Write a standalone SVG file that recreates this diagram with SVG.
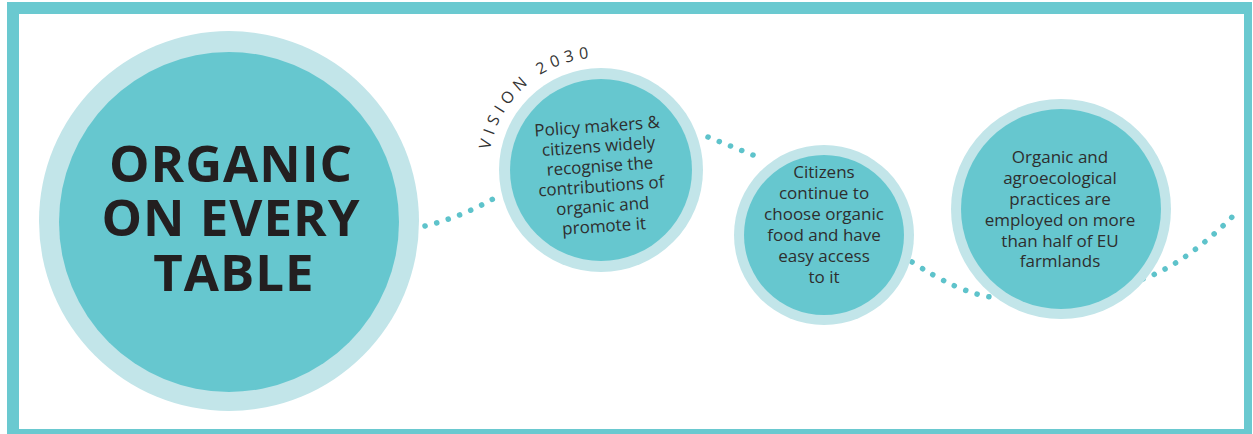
<svg xmlns="http://www.w3.org/2000/svg" width="1253" height="434" viewBox="0 0 1253 434">
<defs>
<style>
.ring{fill:#c2e5e9}
.core{fill:#66c7cf}
.dots{fill:none;stroke:#5ec3cb;stroke-width:5.5;stroke-linecap:round;stroke-dasharray:0.1 12}
.big{font-family:"Open Sans","Liberation Sans",sans-serif;font-weight:700;font-size:51px;fill:#231f20;text-anchor:middle;letter-spacing:1px}
.txt{font-family:"Open Sans","Liberation Sans",sans-serif;font-size:17px;font-weight:500;fill:#2e2e2e;text-anchor:middle}
.vision{font-family:"Open Sans","Liberation Sans",sans-serif;font-size:16px;fill:#333333;letter-spacing:5.2px}
</style>
<path id="visionArc" d="M490,150 A112,112 0 0,1 610,58"/>
</defs>
<rect x="0" y="0" width="1253" height="434" fill="#ffffff"/>
<rect x="7" y="2" width="1245" height="432" fill="#6ac9d0"/>
<rect x="19" y="14" width="1225" height="415" fill="#ffffff"/>
<g id="connectors">
<path class="dots" d="M425,226 Q462.5,217 498,196"/>
<path class="dots" d="M708,137 L753,155"/>
<path class="dots" d="M912,262 Q958.5,292.5 991,297"/>
<path class="dots" d="M1143,279 Q1188,262.5 1237,212"/>
</g>
<g id="node-main">
<circle class="ring" cx="229" cy="221" r="190"/>
<circle class="core" cx="229" cy="222" r="170"/>
<text class="big" x="231" y="182">ORGANIC</text>
<text class="big" x="231" y="236">ON EVERY</text>
<text class="big" x="234" y="291">TABLE</text>
</g>
<g id="node-vision">
<circle class="ring" cx="601" cy="170" r="102"/>
<circle class="core" cx="601" cy="170" r="91"/>
<g class="txt" transform="rotate(-4 601 182)">
<text x="601" y="132">Policy makers &amp;</text>
<text x="601" y="152">citizens widely</text>
<text x="601" y="172">recognise the</text>
<text x="601" y="192">contributions of</text>
<text x="601" y="212">organic and</text>
<text x="601" y="232">promote it</text>
</g>
<text class="vision"><textPath href="#visionArc">VISION 2030</textPath></text>
</g>
<g id="node-citizens">
<circle class="ring" cx="824" cy="235" r="90"/>
<circle class="core" cx="824" cy="235" r="80"/>
<g class="txt">
<text x="824" y="178">Citizens</text>
<text x="824" y="199">continue to</text>
<text x="824" y="220">choose organic</text>
<text x="824" y="241">food and have</text>
<text x="824" y="262">easy access</text>
<text x="824" y="283">to it</text>
</g>
</g>
<g id="node-farmlands">
<circle class="ring" cx="1061" cy="209" r="110"/>
<circle class="core" cx="1061" cy="209" r="100"/>
<g class="txt">
<text x="1060" y="163">Organic and</text>
<text x="1060" y="184">agroecological</text>
<text x="1060" y="205">practices are</text>
<text x="1060" y="226">employed on more</text>
<text x="1060" y="246.5">than half of EU</text>
<text x="1060" y="267">farmlands</text>
</g>
</g>
</svg>
